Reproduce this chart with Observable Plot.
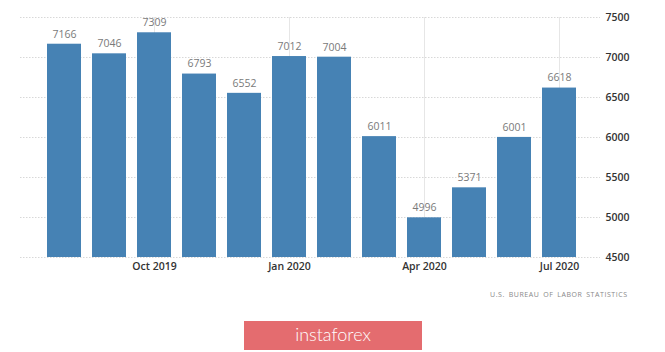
<!DOCTYPE html>
<html>
<head>
<meta charset="utf-8">
<script src="https://cdn.jsdelivr.net/npm/d3@7"></script>
<script src="https://cdn.jsdelivr.net/npm/@observablehq/plot@0.6"></script>
<style>
  body { margin: 0; background: #fff; }
  #wrap { position: relative; width: 665px; height: 352px; overflow: hidden; font-family: "Open Sans", sans-serif; }
  #caption { position: absolute; left: 490px; top: 290px; font-size: 7px; letter-spacing: 0.55px; word-spacing: 1.5px; color: #888; white-space: nowrap; }
  #logo { position: absolute; left: 244px; top: 321px; width: 178px; height: 29px; background: #e46c6f; color: #fff;
          font-family: "Lato", sans-serif; font-weight: 300; font-size: 18px; line-height: 27px; text-align: center; }
</style>
</head>
<body>
<div id="wrap">
  <div id="chart"></div>
  <div id="caption">U.S. BUREAU OF LABOR STATISTICS</div>
  <div id="logo">instaforex</div>
</div>
<script>
const months = ["Aug 2019","Sep 2019","Oct 2019","Nov 2019","Dec 2019","Jan 2020","Feb 2020","Mar 2020","Apr 2020","May 2020","Jun 2020","Jul 2020"];
const values = [7166, 7046, 7309, 6793, 6552, 7012, 7004, 6011, 4996, 5371, 6001, 6618];
const yTicks = [4500, 5000, 5500, 6000, 6500, 7000, 7500];
const xTicks = ["Oct 2019", "Jan 2020", "Apr 2020", "Jul 2020"];

const data = months.map((m, i) => ({month: m, value: values[i]}));

const chart = Plot.plot({
  width: 665,
  height: 285,
  marginLeft: 20,
  marginRight: 65,
  marginTop: 17,
  marginBottom: 28,
  style: {fontFamily: "Open Sans, sans-serif", background: "transparent"},
  x: {type: "band", domain: months, paddingInner: 0.245, paddingOuter: 0.1225, insetLeft: 20, insetRight: 18, axis: null},
  y: {domain: [4500, 7500], axis: null},
  marks: [
    Plot.ruleY(yTicks, {stroke: "#d8d8d8", strokeDasharray: "1.5,1.5"}),
    Plot.ruleX(xTicks, {x: d => d, y1: 4500, y2: 7500, stroke: "#e6e6e6"}),
    Plot.barY(data, {x: "month", y1: 4500, y2: "value", fill: "#4682b4"}),
    Plot.text(data, {x: "month", y: "value", text: d => String(d.value), dy: -10, fill: "#7a7a7a", fontSize: 10.5}),
    Plot.axisY({anchor: "right", ticks: yTicks, tickSize: 0, tickPadding: 5, fontSize: 10.5, fontWeight: 600, color: "#333", label: null, tickFormat: d => String(d)}),
    Plot.axisX({anchor: "bottom", ticks: xTicks, tickSize: 0, tickPadding: 5, fontSize: 10.5, fontWeight: 600, color: "#333", label: null})
  ]
});
document.getElementById("chart").appendChild(chart);
</script>
</body>
</html>
